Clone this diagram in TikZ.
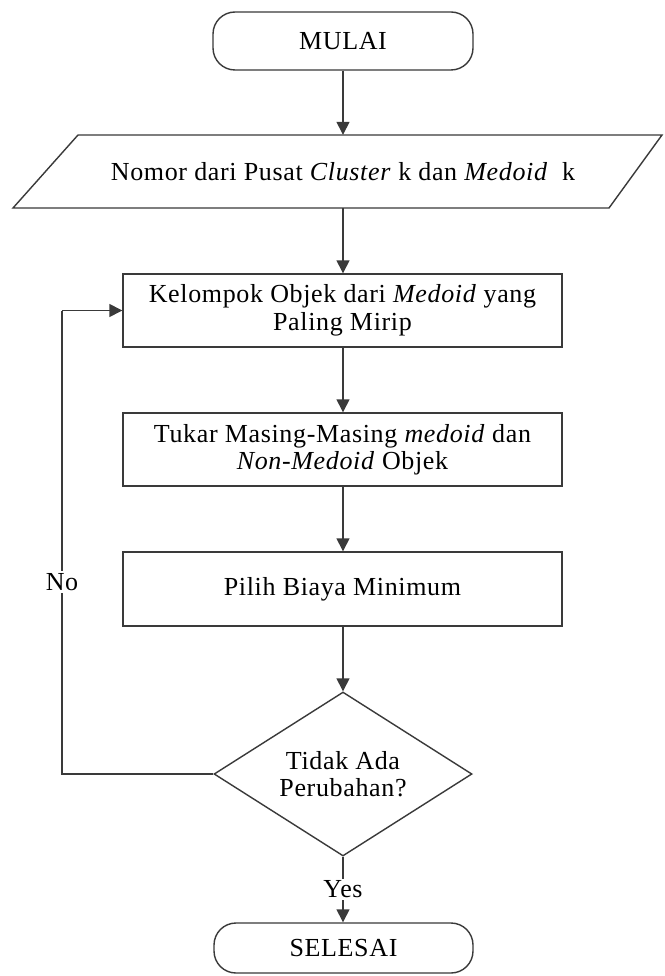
\documentclass[tikz,border=0pt]{standalone}
\usepackage{fontspec}
\setmainfont{Liberation Serif}[LetterSpace=2.5]
\usetikzlibrary{shapes.geometric,arrows.meta}
\definecolor{ln}{HTML}{3A3A3A}
\tikzset{
  txt/.style={font=\fontsize{26}{27.5}\selectfont, align=center, text=black},
  procbox/.style={txt, draw=ln, line width=1.4pt, rectangle, minimum width=439pt, minimum height=73pt, inner sep=0pt},
  termbox/.style={txt, draw=ln, line width=1.4pt, rectangle, rounded corners=22pt, minimum width=260pt, inner sep=0pt},
  decbox/.style={txt, draw=ln, line width=1.4pt, diamond, aspect=1.6, minimum width=258pt, minimum height=164pt, inner sep=0pt},
  arr/.style={draw=ln, line width=1.4pt, -{Triangle[width=13pt,length=13pt]}},
  ln/.style={draw=ln, line width=1.4pt},
  lbl/.style={txt, fill=white, inner sep=2pt}
}
\begin{document}
\begin{tikzpicture}[x=1pt,y=-1pt]
\useasboundingbox[fill=white] (0,0) rectangle (664,976);
\node[termbox, minimum height=58pt] (mulai) at (343,41) {MULAI};
\node[txt, minimum width=580pt, minimum height=73pt, inner sep=0pt] (io) at (343,171.5) {Nomor dari Pusat \textit{Cluster} k dan \textit{Medoid}\ \ k};
\draw[ln, line join=miter] (13,208) -- (78,135) -- (662,135) -- (609,208) -- cycle;
\node[procbox] (b1) at (342.5,310.5) {Kelompok Objek dari \textit{Medoid} yang\\Paling Mirip};
\node[procbox] (b2) at (342.5,449.5) {Tukar Masing-Masing \textit{medoid} dan\\\textit{Non-Medoid} Objek};
\node[procbox, minimum height=74pt] (b3) at (342.5,589) {Pilih Biaya Minimum};
\node[decbox] (d) at (343,774) {Tidak Ada\\Perubahan?};
\node[termbox, minimum height=50pt, minimum width=259pt] (selesai) at (343.5,948) {SELESAI};
\coordinate (lb) at (62,774);
\coordinate (lt) at (62,310.5);
\draw[arr] (mulai.south) -- (io.north);
\draw[arr] (io.south) -- (b1.north -| io.south);
\draw[arr] (b1.south -| d.north) -- (b2.north -| d.north);
\draw[arr] (b2.south -| d.north) -- (b3.north -| d.north);
\draw[arr] (b3.south -| d.north) -- (d.north);
\draw[arr] (d.south) -- node[lbl, pos=0.5] (yes) {Yes} (selesai.north -| d.south);
\draw[ln] (d.west) -- (lb) -- (lt);
\draw[arr] (lt) -- (b1.west);
\node[lbl] (no) at (62,582) {No};
\end{tikzpicture}
\end{document}
